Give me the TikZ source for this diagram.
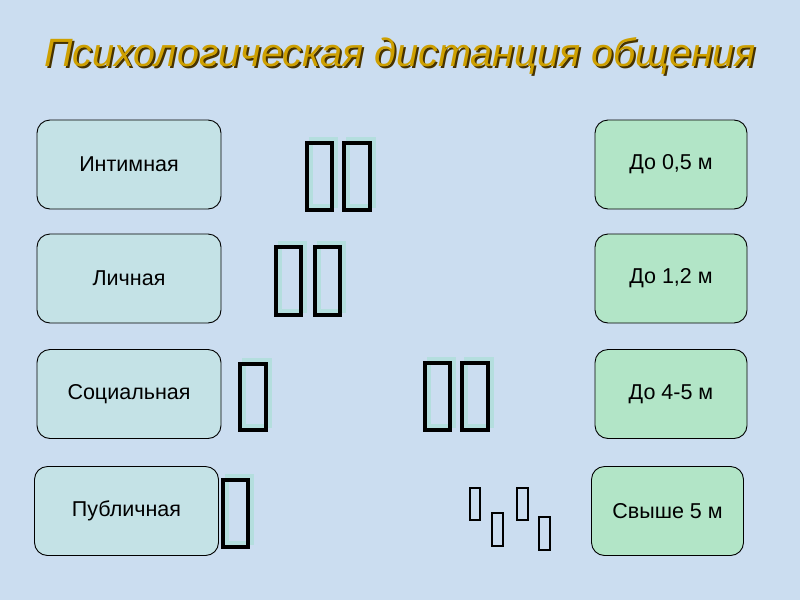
\documentclass[tikz,border=0pt]{standalone}
\usepackage{fontspec}
\setmainfont{Liberation Sans}
\definecolor{bgblue}{RGB}{203,221,240}
\definecolor{leftfill}{RGB}{196,226,230}
\definecolor{rightfill}{RGB}{178,229,199}
\definecolor{gold}{RGB}{206,160,0}
\definecolor{goldshadow}{RGB}{70,50,0}
\definecolor{tealsh}{RGB}{180,222,222}
\tikzset{
  catbox/.style={draw=black, line width=0.9pt, rounded corners=13pt, fill=leftfill,
    minimum width=184pt, minimum height=89pt, font=\fontsize{21.5}{24}\selectfont, inner sep=0pt},
  distbox/.style={catbox, fill=rightfill, minimum width=152pt},
  glyphb/.style={draw=black, line width=3.6pt},
  glypht/.style={draw=tealsh, line width=3.6pt},
  glyphs/.style={draw=black, line width=2.4pt},
  titlefont/.style={font=\itshape\fontsize{39.5}{44}\selectfont, inner sep=0pt},
}
\newcommand{\bigglyph}[4]{%
  \draw[glypht] (#1+4,#2-4) rectangle (#3+4,#4-4);
  \draw[glyphb] (#1,#2) rectangle (#3,#4);}
\begin{document}
\begin{tikzpicture}[x=1pt,y=-1pt]
\fill[bgblue] (0,0) rectangle (800,600);
\useasboundingbox (0,0) rectangle (800,600);
% title
\node[text=goldshadow, titlefont] (titlesh) at (402,58) {Психологическая дистанция общения};
\node[text=gold, titlefont] (title) at (400,56) {Психологическая дистанция общения};
% left boxes
\node[catbox] (c1) at (129,164.5) {Интимная};
\node[catbox] (c2) at (129,278.5) {Личная};
\node[catbox] (c3) at (129,394) {Социальная};
\node[catbox] (c4) at (126.5,511) {Публичная};
% right boxes
\node[distbox] (d1) at (671,164.5) {До 0,5 м};
\node[distbox] (d2) at (671,278.5) {До 1,2 м};
\node[distbox] (d3) at (671,394) {До 4-5 м};
\node[distbox] (d4) at (667.5,511) {Свыше 5 м};
% glyph figures
\bigglyph{307}{143}{332}{210}
\bigglyph{344}{143}{370}{210}
\bigglyph{276}{247}{301}{315}
\bigglyph{315}{247}{340}{315}
\bigglyph{240}{364}{266}{430}
\bigglyph{425}{363}{450}{430}
\bigglyph{462}{363}{488}{430}
\bigglyph{223}{480}{248}{547}
\draw[glyphs] (470,488) rectangle (480,520);
\draw[glyphs] (492,513) rectangle (503,546);
\draw[glyphs] (517,488) rectangle (528,520);
\draw[glyphs] (539,517) rectangle (550,550);
\end{tikzpicture}
\end{document}
